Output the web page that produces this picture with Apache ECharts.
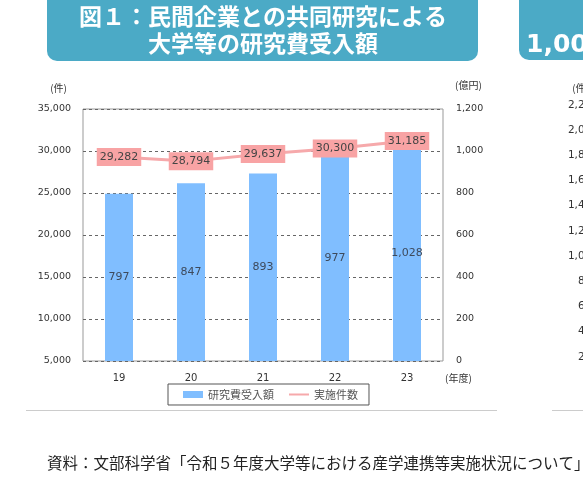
<!DOCTYPE html>
<html>
<head>
<meta charset="utf-8">
<script src="https://cdn.jsdelivr.net/npm/echarts@6/dist/echarts.min.js"></script>
<style>
  html, body { margin: 0; padding: 0; background: #fff; }
  #chart { width: 583px; height: 478px; }
</style>
</head>
<body>
<div id="chart"></div>
<script>
// Data
const years = ['19', '20', '21', '22', '23'];
const fundingOku = [797, 847, 893, 977, 1028];          // 研究費受入額 (億円), right axis
const projectCount = [29282, 28794, 29637, 30300, 31185]; // 実施件数 (件), left axis

// Axis ranges
const countAxis = { min: 5000, max: 35000, interval: 5000 };
const fundAxis = { min: 0, max: 1200, interval: 200 };
// cut-off neighbour chart on the right edge
const neighbourAxis = { min: 0, max: 2200, interval: 200 };

const titleLines = ['図１：民間企業との共同研究による', '大学等の研究費受入額'];
const sourceText = '資料：文部科学省「令和５年度大学等における産学連携等実施状況について」';

const NUM_FONT = '"DejaVu Sans", Verdana, sans-serif';
const JP_FONT = '"Noto Sans CJK JP", "Noto Sans", sans-serif';

const fmt = v => Number(v).toLocaleString('en-US');

const chart = echarts.init(document.getElementById('chart'));

const option = {
    backgroundColor: '#fff',
    animation: false,
    grid: [
        { left: 83, top: 109, width: 360, height: 252, show: true, borderColor: '#999', borderWidth: 1 },
        { left: 604, top: 105, width: 100, height: 277 }
    ],
    legend: {
        left: 168,
        top: 384,
        padding: [5, 11, 5, 15],
        itemGap: 15,
        itemWidth: 20,
        itemHeight: 7,
        borderColor: '#555',
        borderWidth: 1,
        textStyle: { fontSize: 11, color: '#555', fontFamily: JP_FONT },
        data: [
            { name: '研究費受入額', icon: 'rect' },
            { name: '実施件数', icon: 'path://M0,0 H40 V4 H0 Z' }
        ]
    },
    xAxis: [
        {
            type: 'category',
            gridIndex: 0,
            data: years,
            name: '(年度)',
            nameLocation: 'end',
            nameGap: 2,
            nameTextStyle: { fontSize: 10, color: '#333', fontFamily: JP_FONT, verticalAlign: 'top', padding: [12, 0, 0, 0] },
            axisLine: { show: false },
            axisTick: { show: false },
            axisLabel: { margin: 12, fontSize: 10, color: '#333', fontFamily: NUM_FONT }
        },
        { type: 'category', gridIndex: 1, data: [''], show: false }
    ],
    yAxis: [
        {
            type: 'value',
            gridIndex: 0,
            min: countAxis.min,
            max: countAxis.max,
            interval: countAxis.interval,
            name: '(件)',
            nameLocation: 'end',
            nameGap: 16,
            nameTextStyle: { fontSize: 10, color: '#333', fontFamily: JP_FONT, align: 'right', padding: [0, 16, 0, 0] },
            axisLine: { show: false },
            axisTick: { show: false },
            axisLabel: { margin: 12, fontSize: 9.5, color: '#333', fontFamily: NUM_FONT, formatter: fmt },
            splitLine: { show: true, lineStyle: { color: '#666', width: 1, type: [3, 3] } }
        },
        {
            type: 'value',
            gridIndex: 0,
            position: 'right',
            min: fundAxis.min,
            max: fundAxis.max,
            interval: fundAxis.interval,
            name: '(億円)',
            nameLocation: 'end',
            nameGap: 19,
            nameTextStyle: { fontSize: 10, color: '#333', fontFamily: JP_FONT, align: 'left', padding: [0, 0, 0, 12] },
            axisLine: { show: false },
            axisTick: { show: false },
            axisLabel: { margin: 13, fontSize: 9.5, color: '#333', fontFamily: NUM_FONT, formatter: fmt },
            splitLine: { show: false }
        },
        {
            type: 'value',
            gridIndex: 1,
            min: neighbourAxis.min,
            max: neighbourAxis.max,
            interval: neighbourAxis.interval,
            name: '(件)',
            nameLocation: 'end',
            nameGap: 12,
            nameTextStyle: { fontSize: 10, color: '#333', fontFamily: JP_FONT, align: 'right', padding: [0, 15, 0, 0] },
            axisLine: { show: false },
            axisTick: { show: false },
            axisLabel: { margin: 6, fontSize: 10.5, color: '#333', fontFamily: NUM_FONT, formatter: fmt, hideOverlap: false },
            splitLine: { show: false }
        }
    ],
    series: [
        {
            name: '研究費受入額',
            type: 'bar',
            xAxisIndex: 0,
            yAxisIndex: 1,
            barWidth: 28,
            data: fundingOku,
            itemStyle: { color: '#80BEFF' },
            label: {
                show: true,
                position: 'inside',
                fontSize: 11,
                color: '#3d4a5c',
                fontFamily: NUM_FONT,
                formatter: p => fmt(p.value)
            }
        },
        {
            name: '実施件数',
            type: 'line',
            xAxisIndex: 0,
            yAxisIndex: 0,
            data: projectCount,
            color: '#F6A9AB',
            lineStyle: { color: '#F6A9AB', width: 3 },
            symbol: 'circle',
            symbolSize: 1,
            showSymbol: true,
            itemStyle: { color: '#F6A9AB' },
            z: 5,
            label: {
                show: true,
                position: 'inside',
                fontSize: 11,
                color: '#444',
                fontFamily: NUM_FONT,
                backgroundColor: '#F8A3A4',
                padding: [4, 3, 3, 3],
                formatter: p => fmt(p.value)
            }
        }
    ],
    graphic: [
        {
            type: 'rect',
            shape: { x: 47, y: -12, width: 431, height: 73, r: 10 },
            style: { fill: '#4BAAC6' }
        },
        {
            type: 'text',
            x: 263, y: 16,
            style: { text: titleLines[0], fill: '#fff', font: 'bold 23px ' + JP_FONT, align: 'center', verticalAlign: 'middle' }
        },
        {
            type: 'text',
            x: 263, y: 43,
            style: { text: titleLines[1], fill: '#fff', font: 'bold 23px ' + JP_FONT, align: 'center', verticalAlign: 'middle' }
        },
        {
            type: 'rect',
            shape: { x: 519, y: -12, width: 100, height: 72, r: 10 },
            style: { fill: '#4BAAC6' }
        },
        {
            type: 'text',
            x: 526, y: 45,
            style: { text: '1,000', fill: '#fff', font: 'bold 25px ' + NUM_FONT, verticalAlign: 'middle' }
        },
        {
            type: 'line',
            shape: { x1: 26, y1: 410.5, x2: 497, y2: 410.5 },
            style: { stroke: '#ccc', lineWidth: 1 },
            z: -1
        },
        {
            type: 'line',
            shape: { x1: 552, y1: 410.5, x2: 583, y2: 410.5 },
            style: { stroke: '#ccc', lineWidth: 1 },
            z: -1
        },
        {
            type: 'text',
            x: 47, y: 463,
            style: { text: sourceText, fill: '#222', font: '15.5px ' + JP_FONT, verticalAlign: 'middle' }
        }
    ]
};

chart.setOption(option);
</script>
</body>
</html>
